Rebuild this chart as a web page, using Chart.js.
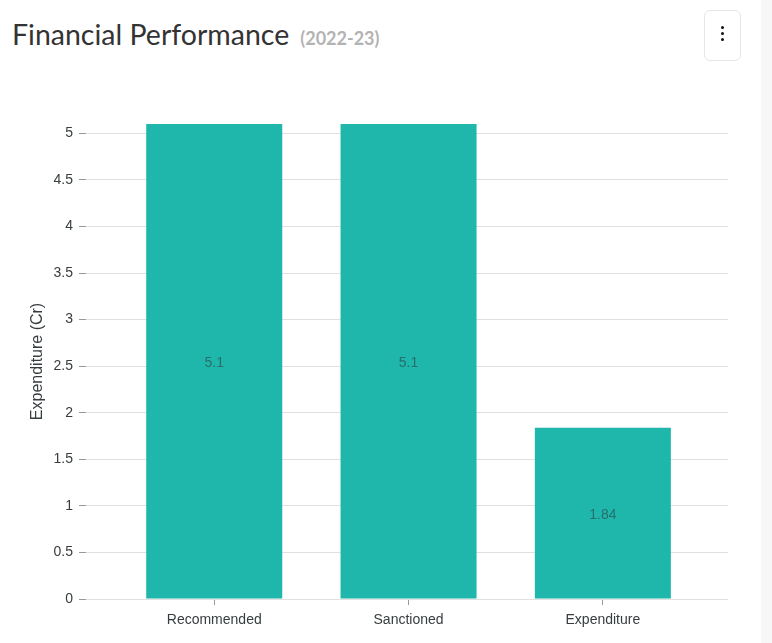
<!DOCTYPE html>
<html>
<head>
<meta charset="utf-8">
<title>Financial Performance</title>
<script src="https://cdn.jsdelivr.net/npm/chart.js@4.4.1/dist/chart.umd.min.js"></script>
<style>
    html, body {
        margin: 0;
        padding: 0;
        width: 772px;
        height: 643px;
        overflow: hidden;
        background: #fff;
    }
    .title {
        position: absolute;
        left: 12px;
        top: 20px;
        margin: 0;
        font-family: Lato, sans-serif;
        font-weight: 400;
        font-size: 28.5px;
        line-height: 28.5px;
        color: #333;
        white-space: nowrap;
    }
    .title span {
        font-size: 18px;
        font-weight: 700;
        color: #b3b3b3;
        margin-left: 11px;
    }
    .menu-btn {
        position: absolute;
        left: 704px;
        top: 10px;
        width: 35px;
        height: 49px;
        border: 1px solid #e6e6e6;
        border-radius: 6px;
    }
    .menu-btn i {
        position: absolute;
        left: 16px;
        width: 3px;
        height: 3px;
        border-radius: 50%;
        background: #111;
    }
    .side-strip {
        position: absolute;
        left: 761px;
        top: 0;
        width: 11px;
        height: 643px;
        background: #f7f7f7;
    }
    .chart-box {
        position: absolute;
        left: 0;
        top: 0;
        width: 761px;
        height: 643px;
    }
</style>
</head>
<body>
<h1 class="title">Financial Performance<span>(2022-23)</span></h1>
<div class="menu-btn"><i style="top:15px"></i><i style="top:21px"></i><i style="top:27px"></i></div>
<div class="side-strip"></div>
<div class="chart-box"><canvas id="financeChart"></canvas></div>

<script>
// Data
const categories = ['Recommended', 'Sanctioned', 'Expenditure'];
const amounts = [5.1, 5.1, 1.84];
const yAxisTitle = 'Expenditure (Cr)';
const yMax = 5.1;
const yStep = 0.5;

const textColor = '#373d3f';
const fontFamily = '"Liberation Sans", Arial, Helvetica, sans-serif';

// Value text in the middle of each bar
const barValueLabels = {
    id: 'barValueLabels',
    afterDatasetsDraw(chart) {
        const ctx = chart.ctx;
        const meta = chart.getDatasetMeta(0);
        ctx.save();
        ctx.font = '14px ' + fontFamily;
        ctx.fillStyle = '#27706b';
        ctx.textAlign = 'center';
        ctx.textBaseline = 'middle';
        meta.data.forEach((bar, i) => {
            ctx.fillText(String(amounts[i]), bar.x, (bar.y + bar.base) / 2 + 2);
        });
        ctx.restore();
    }
};

const ctx = document.getElementById('financeChart').getContext('2d');

new Chart(ctx, {
    type: 'bar',
    data: {
        datasets: [{
            label: 'Amount',
            data: amounts.map((v, i) => ({ x: i, y: v })),
            backgroundColor: '#1fb7ac',
            barPercentage: 0.7,
            categoryPercentage: 1
        }]
    },
    options: {
        responsive: true,
        maintainAspectRatio: false,
        animation: false,
        layout: {
            padding: { top: 124, right: 33, bottom: 0, left: 0 }
        },
        plugins: {
            legend: { display: false },
            tooltip: { enabled: false }
        },
        scales: {
            x: {
                type: 'linear',
                offset: false,
                min: -0.66,
                max: 2.644,
                afterBuildTicks: (scale) => {
                    scale.ticks = categories.map((c, i) => ({ value: i }));
                },
                afterFit: (scale) => { scale.height = 44; },
                border: { display: false },
                grid: {
                    offset: false,
                    drawOnChartArea: false,
                    tickLength: 6,
                    tickColor: '#999'
                },
                ticks: {
                    padding: 7,
                    color: textColor,
                    font: { family: fontFamily, size: 14 },
                    callback: (v) => categories[v]
                }
            },
            y: {
                min: 0,
                max: yMax,
                afterBuildTicks: (scale) => {
                    const ticks = [];
                    for (let k = 0; k * yStep <= yMax; k++) ticks.push({ value: k * yStep });
                    scale.ticks = ticks;
                },
                afterFit: (scale) => { scale.width = 86; },
                border: { display: false },
                grid: {
                    color: '#e0e0e0',
                    tickColor: '#999',
                    tickLength: 7
                },
                ticks: {
                    padding: 6,
                    color: textColor,
                    font: { family: fontFamily, size: 14 },
                    callback: (v) => String(v)
                },
                title: {
                    display: true,
                    text: yAxisTitle,
                    color: textColor,
                    padding: { top: 28, bottom: 0 },
                    font: { family: fontFamily, size: 16 }
                }
            }
        }
    },
    plugins: [barValueLabels]
});
</script>
</body>
</html>
